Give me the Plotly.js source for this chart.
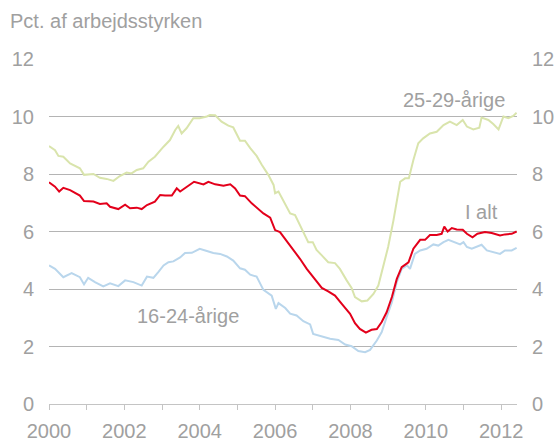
<!DOCTYPE html>
<html><head><meta charset="utf-8">
<script src="https://cdn.plot.ly/plotly-3.0.1.min.js"></script>
<style>html,body{margin:0;padding:0;background:#fff}#c{width:557px;height:443px}</style>
</head><body><div id="c"></div>
<script>
const yearTicks = [2000,2001,2002,2003,2004,2005,2006,2007,2008,2009,2010,2011,2012];
const yearLabels = ["2000","","2002","","2004","","2006","","2008","","2010","","2012"];
const yTicks = [0,2,4,6,8,10,12];

const age2529X = [2000.0,2000.16,2000.25,2000.38,2000.56,2000.82,2000.93,2001.18,2001.35,2001.53,2001.71,2001.88,2002.06,2002.19,2002.33,2002.5,2002.64,2002.81,2003.04,2003.21,2003.35,2003.43,2003.52,2003.65,2003.83,2004.0,2004.19,2004.27,2004.41,2004.58,2004.76,2004.89,2005.07,2005.2,2005.34,2005.51,2005.65,2005.82,2005.96,2006.0,2006.09,2006.27,2006.4,2006.53,2006.75,2006.88,2007.0,2007.1,2007.24,2007.41,2007.59,2007.72,2007.9,2008.03,2008.12,2008.3,2008.45,2008.61,2008.74,2008.87,2009.0,2009.14,2009.23,2009.32,2009.45,2009.55,2009.67,2009.8,2009.93,2010.11,2010.29,2010.47,2010.64,2010.82,2010.98,2011.09,2011.26,2011.42,2011.48,2011.66,2011.79,2011.93,2012.06,2012.19,2012.32,2012.41];
const age2529Y = [8.97,8.83,8.63,8.6,8.37,8.2,7.97,8.0,7.87,7.83,7.76,7.93,8.05,8.02,8.14,8.2,8.43,8.6,8.95,9.18,9.53,9.67,9.41,9.59,9.94,9.94,10.0,10.05,10.04,9.82,9.68,9.62,9.16,9.16,8.9,8.63,8.31,7.97,7.62,7.33,7.39,6.92,6.63,6.57,5.98,5.63,5.63,5.36,5.17,4.93,4.9,4.7,4.3,4.04,3.72,3.57,3.6,3.83,4.12,4.76,5.46,6.38,7.08,7.73,7.85,7.85,8.49,9.07,9.24,9.41,9.47,9.7,9.82,9.7,9.88,9.65,9.55,9.61,9.96,9.88,9.74,9.55,10.0,9.94,10.02,10.13];

const totalX = [2000.0,2000.16,2000.27,2000.38,2000.56,2000.82,2000.93,2001.18,2001.35,2001.53,2001.62,2001.84,2002.02,2002.15,2002.33,2002.46,2002.6,2002.81,2002.95,2003.08,2003.26,2003.39,2003.48,2003.65,2003.85,2004.1,2004.23,2004.41,2004.63,2004.81,2004.94,2005.07,2005.2,2005.38,2005.56,2005.69,2005.87,2006.0,2006.13,2006.4,2006.66,2006.84,2007.01,2007.24,2007.41,2007.59,2007.77,2007.99,2008.12,2008.25,2008.41,2008.56,2008.7,2008.83,2008.96,2009.1,2009.23,2009.36,2009.54,2009.67,2009.85,2009.98,2010.11,2010.29,2010.42,2010.49,2010.58,2010.69,2010.82,2010.98,2011.09,2011.24,2011.37,2011.57,2011.75,2011.97,2012.1,2012.28,2012.41];
const totalY = [7.71,7.56,7.39,7.52,7.44,7.25,7.06,7.04,6.96,6.98,6.86,6.78,6.93,6.81,6.83,6.78,6.92,7.04,7.27,7.25,7.25,7.5,7.39,7.56,7.73,7.64,7.73,7.64,7.59,7.64,7.5,7.25,7.23,6.98,6.77,6.63,6.48,6.05,5.98,5.51,5.05,4.7,4.41,4.04,3.92,3.77,3.48,3.14,2.81,2.61,2.48,2.58,2.61,2.85,3.19,3.72,4.35,4.76,4.93,5.4,5.71,5.71,5.88,5.88,5.92,6.17,6.0,6.12,6.07,6.06,5.92,5.8,5.92,5.98,5.95,5.86,5.9,5.92,6.0];

const age1624X = [2000.0,2000.16,2000.38,2000.6,2000.82,2000.93,2001.04,2001.22,2001.44,2001.62,2001.84,2002.02,2002.24,2002.46,2002.6,2002.77,2002.9,2003.04,2003.17,2003.3,2003.48,2003.61,2003.79,2004.0,2004.19,2004.36,2004.54,2004.72,2004.89,2005.07,2005.2,2005.34,2005.51,2005.69,2005.91,2006.02,2006.09,2006.27,2006.4,2006.57,2006.75,2006.93,2007.01,2007.24,2007.46,2007.68,2007.86,2008.03,2008.21,2008.39,2008.52,2008.7,2008.83,2008.96,2009.1,2009.23,2009.36,2009.5,2009.58,2009.71,2009.85,2010.02,2010.2,2010.33,2010.47,2010.6,2010.78,2010.91,2011.0,2011.09,2011.22,2011.35,2011.48,2011.62,2011.79,2011.97,2012.1,2012.28,2012.41];
const age1624Y = [4.82,4.7,4.41,4.55,4.41,4.16,4.39,4.24,4.09,4.2,4.1,4.3,4.24,4.12,4.43,4.39,4.59,4.82,4.93,4.96,5.1,5.25,5.26,5.4,5.32,5.25,5.22,5.13,4.99,4.72,4.67,4.5,4.43,3.97,3.77,3.31,3.51,3.34,3.14,3.08,2.88,2.77,2.44,2.35,2.27,2.23,2.07,2.01,1.84,1.8,1.88,2.21,2.5,3.02,3.54,4.24,4.7,4.82,4.7,5.22,5.34,5.4,5.55,5.51,5.63,5.71,5.63,5.55,5.63,5.46,5.4,5.46,5.54,5.34,5.28,5.22,5.34,5.34,5.43];

const seriesNames = ["16-24-årige","25-29-årige","I alt"];
const textColor = "#a0a0a0";
const gridColor = "#b4b4b4";
const font = {family:"Liberation Sans, Arial, sans-serif", size:20, color:textColor};

const traces = [
  {x:age1624X, y:age1624Y, name:seriesNames[0], mode:"lines", line:{color:"#b9d6ec", width:2}},
  {x:age2529X, y:age2529Y, name:seriesNames[1], mode:"lines", line:{color:"#d9e4ac", width:2}},
  {x:totalX, y:totalY, name:seriesNames[2], mode:"lines", line:{color:"#e3001b", width:2}},
  {x:[2000], y:[0], yaxis:"y2", mode:"lines", showlegend:false, hoverinfo:"skip", line:{color:"rgba(0,0,0,0)"}}
];

const layout = {
  width:557, height:443,
  margin:{l:49, r:40, t:59, b:39, pad:0},
  paper_bgcolor:"#fff", plot_bgcolor:"#fff",
  showlegend:false,
  font:font,
  title:{text:"Pct. af arbejdsstyrken", xref:"container", yref:"container", x:0.018, xanchor:"left", y:1-21/443, yanchor:"middle", font:font},
  xaxis:{range:[2000,2012.42], tickvals:yearTicks, ticktext:yearLabels, ticks:"outside", ticklen:5, tickcolor:"#c4c4c4",
         showgrid:false, showline:true, linecolor:"#c4c4c4", linewidth:1, zeroline:false, tickfont:font, fixedrange:true, ticklabelstandoff:4},
  yaxis:{range:[0,12], tickvals:yTicks, ticks:"", showgrid:true, gridcolor:gridColor, gridwidth:1, zeroline:false,
         showline:false, tickfont:font, ticklabelstandoff:14},
  yaxis2:{range:[0,12], tickvals:yTicks, overlaying:"y", side:"right", ticks:"", showgrid:false, zeroline:false,
          showline:false, tickfont:font, ticklabelstandoff:14},
  annotations:[
    {x:2010.74, y:10.57, xref:"x", yref:"y", text:seriesNames[1], showarrow:false, font:font},
    {x:2011.47, y:6.68, xref:"x", yref:"y", text:seriesNames[2], showarrow:false, font:font},
    {x:2003.70, y:3.06, xref:"x", yref:"y", text:seriesNames[0], showarrow:false, font:font}
  ]
};
Plotly.newPlot("c", traces, layout, {displayModeBar:false, staticPlot:true});
</script></body></html>
